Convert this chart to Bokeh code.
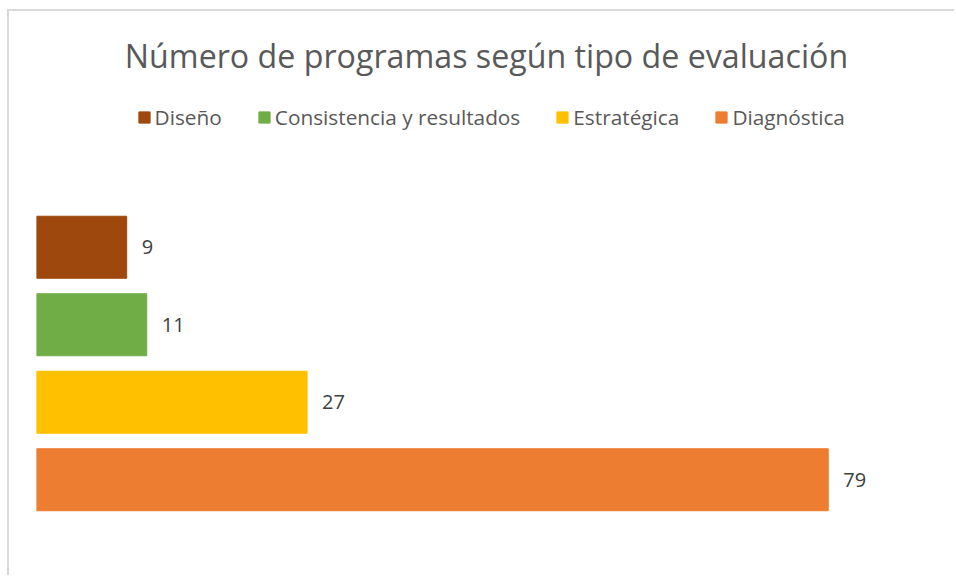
from bokeh.plotting import figure
from bokeh.models import ColumnDataSource, Legend, LegendItem, LabelSet, Range1d
from bokeh.core.properties import value
from bokeh.embed import file_html
from bokeh.resources import INLINE

categories = ["Diseño", "Consistencia y resultados", "Estratégica", "Diagnóstica"]
values = [9, 11, 27, 79]
colors = ["#9E480E", "#70AD47", "#FFC000", "#ED7D31"]
title_text = "Número de programas según tipo de evaluación"

pos = list(range(len(categories)))  # row index, top to bottom
src = ColumnDataSource(dict(cat=categories, pos=pos, val=values, color=colors,
                            lab=[str(v) for v in values]))

FONT = "Open Sans"

p = figure(width=947, height=566, output_backend="svg", toolbar_location=None,
           y_range=Range1d(3.5, -1.958),
           x_range=Range1d(0, 89.8),
           min_border_left=27, min_border_right=20, min_border_top=84, min_border_bottom=59,
           margin=(9, 0, 0, 7))
p.styles = {"border-top": "2px solid #d9d9d9", "border-left": "2px solid #d9d9d9"}
p.title.text = title_text
p.title.align = "center"
p.title.text_font = FONT
p.title.text_font_size = "32.2px"
p.title.text_font_style = "normal"
p.title.text_color = "#595959"
p.title.standoff = 37

r = p.hbar(y="pos", right="val", left=0, height=0.8, color="color", source=src)

p.xaxis.visible = False
p.yaxis.visible = False
p.xgrid.visible = False
p.ygrid.visible = False
p.outline_line_color = None
p.background_fill_color = "white"
p.border_fill_color = "white"

labels = LabelSet(x="val", y="pos", text="lab", source=src, x_offset=15,
                  text_align="left", text_baseline="middle",
                  text_font=value(FONT), text_font_size="20px", text_color="#404040")
p.add_layout(labels)

items = [LegendItem(label=c, renderers=[r], index=i) for i, c in enumerate(categories)]
legend = Legend(items=items, orientation="horizontal", location=(100.6, 387),
                glyph_width=14, glyph_height=14, label_standoff=4, spacing=35,
                padding=0, margin=0, border_line_color=None, background_fill_alpha=0,
                label_text_font=FONT, label_text_font_size="20.8px", label_text_color="#595959")
p.add_layout(legend, "center")

open("out.html", "w").write(file_html(p, INLINE))
